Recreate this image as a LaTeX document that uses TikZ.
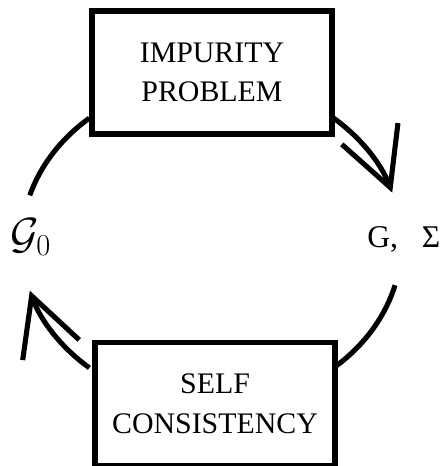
\documentclass[tikz,border=0pt]{standalone}
\usepackage{fontspec}
\setmainfont{Liberation Serif}
\usepackage{amsmath}
\usepackage{tikz}
\usetikzlibrary{arrows.meta,positioning}

\begin{document}
\begin{tikzpicture}[x=0.02cm,y=0.02cm,
  every node/.style={font=\fontsize{17}{22.5}\selectfont},
  procbox/.style={draw,rectangle,line width=3.4pt,minimum width=4.8cm,minimum height=2.46cm,fill=white,align=center,inner sep=0pt},
  cycarc/.style={line width=2.9pt},
  cyctip/.style={-{Straight Barb[length=1.15cm,width=1.2cm]}}]

\useasboundingbox (0,0) rectangle (446,466);

% Top - impurity solver box
\node[procbox] (impurity) at (212,393.5) {IMPURITY\\PROBLEM};

% Bottom - self consistency box
\node[procbox] (selfcons) at (215,62) {SELF\\CONSISTENCY};

% Quantities passed round the loop
\node[anchor=base west,inner sep=0pt,font=\fontsize{23}{26}\selectfont] (gzero) at (10,217) {$\mathcal{G}_0$};
\node[anchor=base west,inner sep=0pt,font=\fontsize{18}{22}\selectfont] (gsigma) at (367,218) {G,\hspace{0.75em}Σ};

% Loop arcs on one ellipse round the middle
\coordinate (mid) at (211.5,223);
\draw[cycarc] (mid) ++(130:190 and 163) arc[start angle=130,end angle=163,x radius=190,y radius=163];
\draw[cycarc,cyctip] (mid) ++(50:190 and 163) arc[start angle=50,end angle=18,x radius=190,y radius=163];
\draw[cycarc] (mid) ++(310:190 and 163) arc[start angle=310,end angle=345,x radius=190,y radius=163];
\draw[cycarc,cyctip] (mid) ++(230:190 and 163) arc[start angle=230,end angle=197,x radius=190,y radius=163];

\end{tikzpicture}
\end{document}
